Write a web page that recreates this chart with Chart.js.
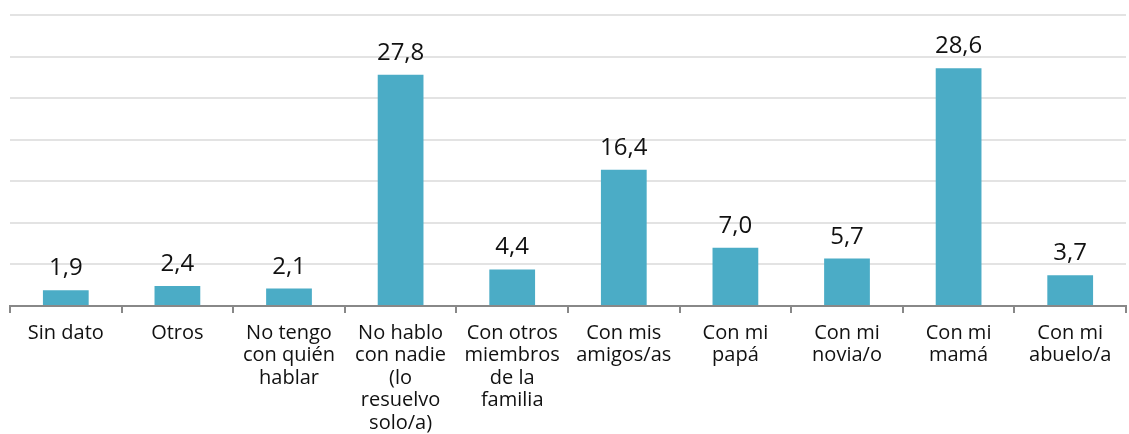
<!DOCTYPE html>
<html>
<head>
<meta charset="utf-8">
<script src="https://cdn.jsdelivr.net/npm/chart.js@4"></script>
<style>
  html, body { margin: 0; padding: 0; background: #fff; }
  #wrap { width: 1129px; height: 434px; }
</style>
</head>
<body>
<div id="wrap"><canvas id="chart" width="1129" height="434"></canvas></div>
<script>
// categories (wrapped as in the original)
const categories = [
    "Sin dato",
    "Otros",
    ["No tengo", "con quién", "hablar"],
    ["No hablo", "con nadie", "(lo", "resuelvo", "solo/a)"],
    ["Con otros", "miembros", "de la", "familia"],
    ["Con mis", "amigos/as"],
    ["Con mi", "papá"],
    ["Con mi", "novia/o"],
    ["Con mi", "mamá"],
    ["Con mi", "abuelo/a"]
];
const values = [1.9, 2.4, 2.1, 27.8, 4.4, 16.4, 7.0, 5.7, 28.6, 3.7];
const yTicks = [0, 5, 10, 15, 20, 25, 30, 35];

const fontFamily = "'Open Sans', sans-serif";

// value labels above bars
const valueLabels = {
    id: "valueLabels",
    afterDatasetsDraw(chart) {
        const ctx = chart.ctx;
        const meta = chart.getDatasetMeta(0);
        ctx.save();
        ctx.fillStyle = "#111";
        ctx.font = "24px " + fontFamily;
        ctx.textAlign = "center";
        ctx.textBaseline = "alphabetic";
        meta.data.forEach((bar, i) => {
            let txt = values[i].toFixed(1).replace(".", ",");
            ctx.fillText(txt, bar.x, bar.y - 15);
        });
        ctx.restore();
    }
};

new Chart(document.getElementById("chart"), {
    type: "bar",
    data: {
        labels: categories,
        datasets: [{
            data: values,
            backgroundColor: "#4BACC6",
            barPercentage: 0.41,
            categoryPercentage: 1.0
        }]
    },
    options: {
        responsive: false,
        animation: false,
        layout: { padding: { left: 10, right: 3, top: 15, bottom: 0 } },
        plugins: {
            legend: { display: false },
            tooltip: { enabled: false }
        },
        scales: {
            x: {
                offset: true,
                grid: {
                    offset: true,
                    drawOnChartArea: false,
                    color: "#888",
                    lineWidth: 2,
                    tickLength: 7
                },
                border: { color: "#888", width: 2 },
                ticks: {
                    color: "#111",
                    font: { family: fontFamily, size: 20, lineHeight: 1.12 },
                    padding: 9,
                    maxRotation: 0,
                    autoSkip: false
                },
                afterFit(scale) { scale.height = 128; }
            },
            y: {
                min: 0,
                max: 35,
                afterBuildTicks(scale) { scale.ticks = yTicks.map(v => ({ value: v })); },
                ticks: { display: false },
                border: { display: false },
                grid: { color: "#e3e3e3", lineWidth: 2, drawTicks: false }
            }
        }
    },
    plugins: [valueLabels]
});
</script>
</body>
</html>
